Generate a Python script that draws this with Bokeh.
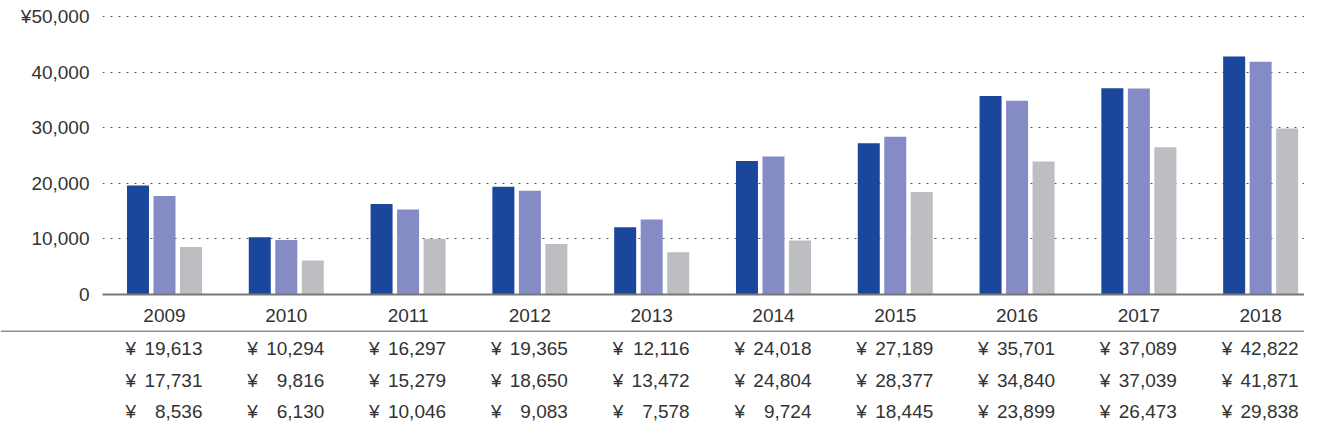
from bokeh.plotting import figure
from bokeh.models import ColumnDataSource, Range1d, FixedTicker, Span
from bokeh.embed import file_html
from bokeh.resources import INLINE
from bokeh.core.properties import value
from bokeh.transform import dodge

# ---- data ----
years = ["2009", "2010", "2011", "2012", "2013", "2014", "2015", "2016", "2017", "2018"]
series_a = [19613, 10294, 16297, 19365, 12116, 24018, 27189, 35701, 37089, 42822]
series_b = [17731, 9816, 15279, 18650, 13472, 24804, 28377, 34840, 37039, 41871]
series_c = [8536, 6130, 10046, 9083, 7578, 9724, 18445, 23899, 26473, 29838]
y_ticks = [0, 10000, 20000, 30000, 40000, 50000]
y_tick_labels = ["0", "10,000", "20,000", "30,000", "40,000", "¥50,000"]

colors = ["#1a469b", "#858bc4", "#bdbec2"]
FONT = "Liberation Sans"
TXT = "#333333"
FS = "19px"

xs = list(range(len(years)))
src = ColumnDataSource(dict(
    x=xs, a=series_a, b=series_b, c=series_c,
    a_txt=[f"{v:,}" for v in series_a],
    b_txt=[f"{v:,}" for v in series_b],
    c_txt=[f"{v:,}" for v in series_c],
    yen=["¥"] * len(xs),
))

W = 1304
# ---- chart ----
p = figure(width=W, height=330, output_backend="svg", toolbar_location=None,
           x_range=Range1d(-0.509, 9.360), y_range=Range1d(0, 52158),
           min_border_left=102, min_border_right=0, min_border_top=4, min_border_bottom=36)
p.outline_line_color = None
p.xgrid.grid_line_color = None
p.ygrid.grid_line_color = "#555555"
p.ygrid.grid_line_dash = "2 6"
p.ygrid.grid_line_width = 1

bw = 0.1806
off = 0.2176
for field, dx, col in (("a", -off, colors[0]), ("b", 0.0, colors[1]), ("c", off, colors[2])):
    p.vbar(x=dodge("x", dx), top=field, width=bw, bottom=0, source=src,
           fill_color=col, line_color=None)

p.yaxis.ticker = FixedTicker(ticks=y_ticks)
p.yaxis.major_label_overrides = {t: l for t, l in zip(y_ticks, y_tick_labels)}
p.yaxis.axis_line_color = None
p.yaxis.major_tick_line_color = None
p.yaxis.minor_tick_line_color = None
p.yaxis.major_tick_out = 0
p.yaxis.major_tick_in = 0
p.yaxis.major_label_standoff = 13
p.yaxis.major_label_text_font = FONT
p.yaxis.major_label_text_font_size = FS
p.yaxis.major_label_text_color = TXT

p.xaxis.ticker = FixedTicker(ticks=xs)
p.xaxis.major_label_overrides = {i: y for i, y in zip(xs, years)}
p.xaxis.axis_line_color = "#777777"
p.xaxis.axis_line_width = 2
p.xaxis.major_tick_line_color = None
p.xaxis.minor_tick_line_color = None
p.xaxis.major_tick_out = 0
p.xaxis.major_tick_in = 0
p.xaxis.major_label_standoff = 14
p.xaxis.major_label_text_font = FONT
p.xaxis.major_label_text_font_size = FS
p.xaxis.major_label_text_color = TXT

# ---- table ----
t = figure(width=W, height=94, output_backend="svg", toolbar_location=None,
           x_range=Range1d(-1.3465, 9.360), y_range=Range1d(94, 0),
           x_axis_type=None, y_axis_type=None,
           min_border_left=0, min_border_right=0, min_border_top=0, min_border_bottom=0)
t.outline_line_color = None
t.xgrid.grid_line_color = None
t.ygrid.grid_line_color = None
t.add_layout(Span(location=0.5, dimension="width", line_color="#222222", line_width=1))

row_y = [18, 50, 81]
for field, ry in zip(("a_txt", "b_txt", "c_txt"), row_y):
    t.text(x="x", y=ry, text="yen", source=src, x_offset=-39, text_align="left",
           text_baseline="middle", text_font=value(FONT), text_font_size=FS, text_color=TXT)
    t.text(x="x", y=ry, text=field, source=src, x_offset=38, text_align="right",
           text_baseline="middle", text_font=value(FONT), text_font_size=FS, text_color=TXT)

open("out.html", "w").write(file_html([p, t], INLINE))
